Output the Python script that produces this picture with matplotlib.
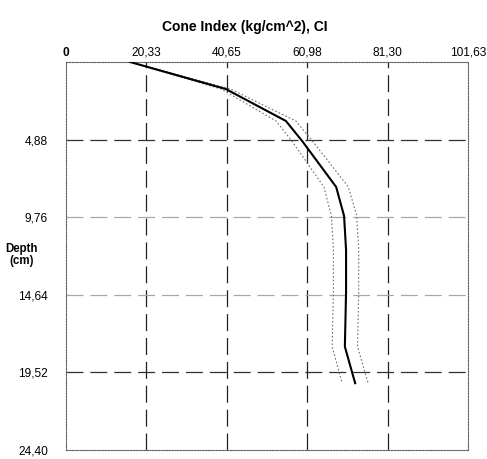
import matplotlib
matplotlib.use("Agg")
import matplotlib.pyplot as plt
import numpy as np

# cone index profile: depth (cm) vs mean CI and spread (kg/cm^2)
depth = [0.0, 1.70, 3.71, 5.0, 7.86, 9.68, 11.8, 14.5, 17.9, 20.2]
ci_mean = [16.2, 40.4, 55.6, 59.8, 68.3, 70.3, 70.8, 70.8, 70.5, 73.1]
ci_sd = [0.0, 1.2, 2.5, 2.6, 3.1, 3.2, 3.2, 3.2, 3.2, 3.3]

x_ticks = [0, 20.33, 40.65, 60.98, 81.30, 101.63]
y_ticks = [4.88, 9.76, 14.64, 19.52, 24.40]


def comma(v):
    return ("%.2f" % v).replace(".", ",")


plt.rcParams["font.family"] = ["Liberation Sans", "DejaVu Sans"]
plt.rcParams["lines.scale_dashes"] = False

fig = plt.figure(figsize=(4.87, 4.59), dpi=100)
ax = fig.add_axes([66 / 487, 9 / 459, 402 / 487, 388 / 459])

ax.set_xlim(0, 101.63)
ax.set_ylim(24.40, 0)

dash = (0, (12.2, 5.0))
for x in x_ticks[1:-1]:
    ax.axvline(x, color="#202020", lw=0.9, linestyle=dash, zorder=1)
for y in y_ticks[:-1]:
    c = "#a8a8a8" if y in (9.76, 14.64) else "#303030"
    ax.axhline(y, color=c, lw=0.9, linestyle=dash, zorder=1)

mean = np.array(ci_mean)
sd = np.array(ci_sd)
ax.plot(mean - sd, depth, color="#707070", lw=0.8, linestyle=(0, (1.2, 1.5)), zorder=2)
ax.plot(mean + sd, depth, color="#707070", lw=0.8, linestyle=(0, (1.2, 1.5)), zorder=2)
ax.plot(mean, depth, color="black", lw=1.5, zorder=3)

for s in ax.spines.values():
    s.set_linestyle((0, (1, 1)))
    s.set_color("#606060")
    s.set_linewidth(0.8)

ax.xaxis.tick_top()
ax.set_xticks(x_ticks)
ax.set_xticklabels(["0"] + [comma(v) for v in x_ticks[1:]])
ax.get_xticklabels()[0].set_fontweight("bold")
ax.set_yticks(y_ticks)
ax.set_yticklabels([comma(v) for v in y_ticks])
ax.tick_params(length=0, labelsize=8.6, colors="black")
ax.tick_params(axis="x", pad=2.5)
ax.tick_params(axis="y", pad=13)

fig.text(245 / 487, 1 - 27 / 459, "Cone Index (kg/cm^2), CI", ha="center",
         va="center", fontsize=10, fontweight="bold")
fig.text(22 / 487, 1 - 255 / 459, "Depth\n(cm)", ha="center", va="center",
         fontsize=8.3, fontweight="bold", linespacing=0.9)

fig.savefig("out.png", dpi=100)
